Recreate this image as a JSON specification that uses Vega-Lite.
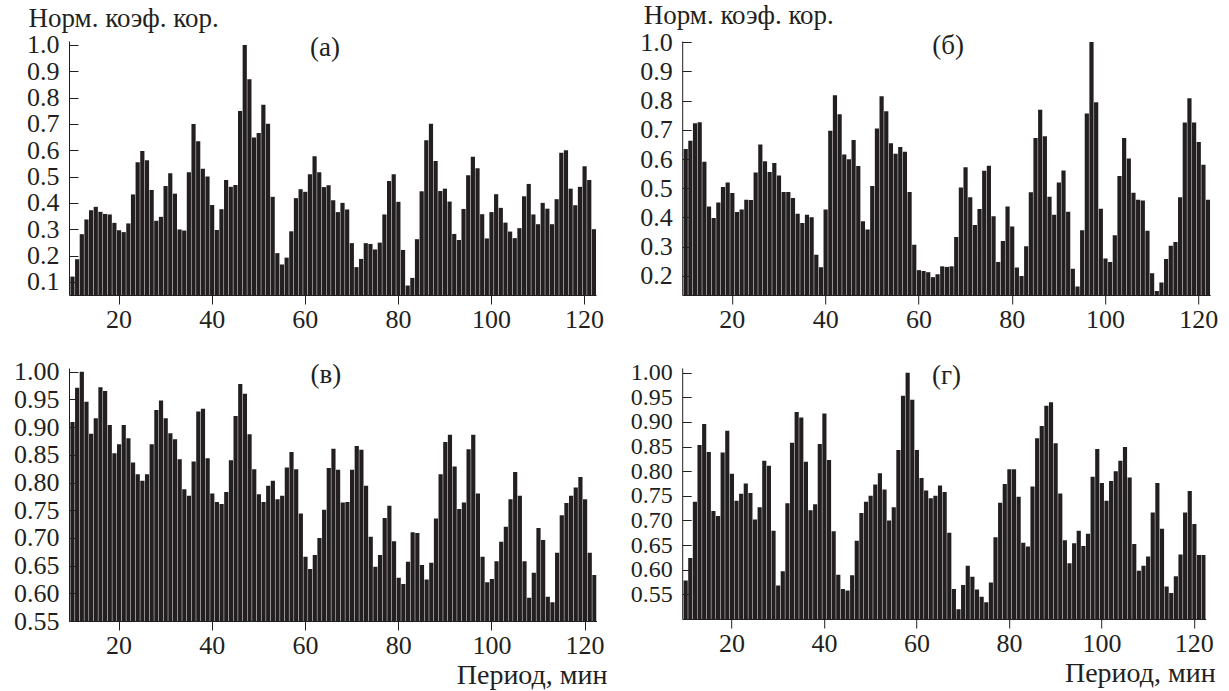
{
  "$schema": "https://vega.github.io/schema/vega-lite/v6.json",
  "autosize": {"type": "none"},
  "padding": {"left": 69, "top": 41, "right": 1160, "bottom": 650},
  "background": "white",
  "config": {
    "view": {"stroke": null},
    "font": "Liberation Serif",
    "axis": {
      "domainColor": "#231f20", "tickColor": "#231f20", "labelColor": "#231f20", "titleColor": "#231f20",
      "labelFont": "Liberation Serif", "titleFont": "Liberation Serif", "labelFontSize": 26, "titleFontSize": 28,
      "titleFontWeight": "normal", "grid": false, "domainWidth": 1, "tickWidth": 1
    },
    "axisX": {"tickSize": 9, "labelPadding": 2, "labelAngle": 0},
    "axisY": {"tickSize": -9, "labelPadding": 19, "labelOverlap": false, "labelBound": false},
    "title": {"font": "Liberation Serif", "fontSize": 27, "fontWeight": "normal", "color": "#231f20", "frame": "group", "anchor": "middle", "baseline": "middle", "offset": -11}
  },
  "data": {"values": [
    {"p":10,"a":0.12,"b":0.634,"c":0.909,"d":0.578},
    {"p":11,"a":0.186,"b":0.662,"c":0.971,"d":0.624},
    {"p":12,"a":0.281,"b":0.722,"c":1.0,"d":0.738},
    {"p":13,"a":0.337,"b":0.726,"c":0.946,"d":0.853},
    {"p":14,"a":0.372,"b":0.591,"c":0.888,"d":0.896},
    {"p":15,"a":0.385,"b":0.438,"c":0.916,"d":0.839},
    {"p":16,"a":0.366,"b":0.398,"c":0.972,"d":0.719},
    {"p":17,"a":0.358,"b":0.451,"c":0.965,"d":0.709},
    {"p":18,"a":0.356,"b":0.504,"c":0.904,"d":0.838},
    {"p":19,"a":0.324,"b":0.52,"c":0.853,"d":0.882},
    {"p":20,"a":0.296,"b":0.484,"c":0.869,"d":0.795},
    {"p":21,"a":0.289,"b":0.419,"c":0.904,"d":0.74},
    {"p":22,"a":0.322,"b":0.427,"c":0.88,"d":0.754},
    {"p":23,"a":0.432,"b":0.461,"c":0.836,"d":0.775},
    {"p":24,"a":0.554,"b":0.46,"c":0.815,"d":0.756},
    {"p":25,"a":0.597,"b":0.554,"c":0.803,"d":0.702},
    {"p":26,"a":0.562,"b":0.65,"c":0.815,"d":0.727},
    {"p":27,"a":0.449,"b":0.592,"c":0.869,"d":0.821},
    {"p":28,"a":0.332,"b":0.556,"c":0.931,"d":0.811},
    {"p":29,"a":0.347,"b":0.586,"c":0.948,"d":0.679},
    {"p":30,"a":0.464,"b":0.544,"c":0.916,"d":0.568},
    {"p":31,"a":0.513,"b":0.487,"c":0.889,"d":0.597},
    {"p":32,"a":0.435,"b":0.487,"c":0.878,"d":0.735},
    {"p":33,"a":0.299,"b":0.467,"c":0.842,"d":0.858},
    {"p":34,"a":0.295,"b":0.413,"c":0.788,"d":0.92},
    {"p":35,"a":0.516,"b":0.381,"c":0.776,"d":0.909},
    {"p":36,"a":0.7,"b":0.409,"c":0.838,"d":0.819},
    {"p":37,"a":0.634,"b":0.401,"c":0.928,"d":0.721},
    {"p":38,"a":0.53,"b":0.273,"c":0.933,"d":0.733},
    {"p":39,"a":0.5,"b":0.23,"c":0.844,"d":0.855},
    {"p":40,"a":0.392,"b":0.427,"c":0.78,"d":0.917},
    {"p":41,"a":0.297,"b":0.697,"c":0.765,"d":0.823},
    {"p":42,"a":0.376,"b":0.818,"c":0.761,"d":0.678},
    {"p":43,"a":0.487,"b":0.753,"c":0.783,"d":0.59},
    {"p":44,"a":0.461,"b":0.615,"c":0.84,"d":0.561},
    {"p":45,"a":0.468,"b":0.599,"c":0.92,"d":0.558},
    {"p":46,"a":0.749,"b":0.665,"c":0.978,"d":0.589},
    {"p":47,"a":1.0,"b":0.576,"c":0.96,"d":0.659},
    {"p":48,"a":0.87,"b":0.387,"c":0.887,"d":0.715},
    {"p":49,"a":0.648,"b":0.359,"c":0.824,"d":0.738},
    {"p":50,"a":0.665,"b":0.508,"c":0.779,"d":0.75},
    {"p":51,"a":0.773,"b":0.704,"c":0.765,"d":0.773},
    {"p":52,"a":0.701,"b":0.815,"c":0.794,"d":0.796},
    {"p":53,"a":0.423,"b":0.763,"c":0.803,"d":0.763},
    {"p":54,"a":0.209,"b":0.654,"c":0.77,"d":0.7},
    {"p":55,"a":0.166,"b":0.618,"c":0.776,"d":0.727},
    {"p":56,"a":0.192,"b":0.641,"c":0.827,"d":0.843},
    {"p":57,"a":0.292,"b":0.625,"c":0.855,"d":0.953},
    {"p":58,"a":0.418,"b":0.487,"c":0.824,"d":1.0},
    {"p":59,"a":0.452,"b":0.307,"c":0.744,"d":0.945},
    {"p":60,"a":0.442,"b":0.22,"c":0.666,"d":0.843},
    {"p":61,"a":0.509,"b":0.217,"c":0.644,"d":0.786},
    {"p":62,"a":0.577,"b":0.213,"c":0.669,"d":0.761},
    {"p":63,"a":0.516,"b":0.196,"c":0.7,"d":0.745},
    {"p":64,"a":0.46,"b":0.206,"c":0.751,"d":0.75},
    {"p":65,"a":0.467,"b":0.233,"c":0.826,"d":0.771},
    {"p":66,"a":0.41,"b":0.231,"c":0.861,"d":0.758},
    {"p":67,"a":0.365,"b":0.233,"c":0.823,"d":0.675},
    {"p":68,"a":0.4,"b":0.333,"c":0.764,"d":0.561},
    {"p":69,"a":0.375,"b":0.503,"c":0.765,"d":0.52},
    {"p":70,"a":0.247,"b":0.572,"c":0.823,"d":0.569},
    {"p":71,"a":0.156,"b":0.469,"c":0.866,"d":0.608},
    {"p":72,"a":0.187,"b":0.374,"c":0.859,"d":0.586},
    {"p":73,"a":0.247,"b":0.429,"c":0.794,"d":0.56},
    {"p":74,"a":0.244,"b":0.56,"c":0.702,"d":0.545},
    {"p":75,"a":0.223,"b":0.577,"c":0.648,"d":0.534},
    {"p":76,"a":0.249,"b":0.404,"c":0.669,"d":0.574},
    {"p":77,"a":0.356,"b":0.248,"c":0.736,"d":0.666},
    {"p":78,"a":0.483,"b":0.32,"c":0.758,"d":0.736},
    {"p":79,"a":0.509,"b":0.438,"c":0.694,"d":0.774},
    {"p":80,"a":0.404,"b":0.369,"c":0.628,"d":0.804},
    {"p":81,"a":0.221,"b":0.229,"c":0.617,"d":0.804},
    {"p":82,"a":0.086,"b":0.2,"c":0.657,"d":0.748},
    {"p":83,"a":0.115,"b":0.302,"c":0.71,"d":0.655},
    {"p":84,"a":0.262,"b":0.486,"c":0.709,"d":0.647},
    {"p":85,"a":0.444,"b":0.672,"c":0.651,"d":0.769},
    {"p":86,"a":0.638,"b":0.768,"c":0.625,"d":0.867},
    {"p":87,"a":0.701,"b":0.678,"c":0.655,"d":0.892},
    {"p":88,"a":0.559,"b":0.471,"c":0.735,"d":0.933},
    {"p":89,"a":0.445,"b":0.409,"c":0.815,"d":0.94},
    {"p":90,"a":0.454,"b":0.52,"c":0.873,"d":0.857},
    {"p":91,"a":0.405,"b":0.561,"c":0.886,"d":0.755},
    {"p":92,"a":0.282,"b":0.42,"c":0.829,"d":0.66},
    {"p":93,"a":0.259,"b":0.225,"c":0.752,"d":0.613},
    {"p":94,"a":0.377,"b":0.164,"c":0.764,"d":0.654},
    {"p":95,"a":0.505,"b":0.356,"c":0.86,"d":0.679},
    {"p":96,"a":0.575,"b":0.756,"c":0.886,"d":0.648},
    {"p":97,"a":0.532,"b":1.0,"c":0.78,"d":0.673},
    {"p":98,"a":0.357,"b":0.794,"c":0.666,"d":0.789},
    {"p":99,"a":0.265,"b":0.43,"c":0.62,"d":0.845},
    {"p":100,"a":0.365,"b":0.26,"c":0.626,"d":0.776},
    {"p":101,"a":0.433,"b":0.248,"c":0.658,"d":0.74},
    {"p":102,"a":0.381,"b":0.339,"c":0.693,"d":0.78},
    {"p":103,"a":0.325,"b":0.542,"c":0.72,"d":0.8},
    {"p":104,"a":0.291,"b":0.672,"c":0.77,"d":0.821},
    {"p":105,"a":0.266,"b":0.602,"c":0.819,"d":0.849},
    {"p":106,"a":0.304,"b":0.485,"c":0.776,"d":0.787},
    {"p":107,"a":0.425,"b":0.461,"c":0.658,"d":0.652},
    {"p":108,"a":0.472,"b":0.458,"c":0.592,"d":0.598},
    {"p":109,"a":0.356,"b":0.355,"c":0.637,"d":0.608},
    {"p":110,"a":0.319,"b":0.209,"c":0.718,"d":0.627},
    {"p":111,"a":0.4,"b":0.149,"c":0.696,"d":0.716},
    {"p":112,"a":0.378,"b":0.178,"c":0.594,"d":0.776},
    {"p":113,"a":0.319,"b":0.258,"c":0.584,"d":0.683},
    {"p":114,"a":0.414,"b":0.303,"c":0.673,"d":0.566},
    {"p":115,"a":0.59,"b":0.316,"c":0.741,"d":0.553},
    {"p":116,"a":0.6,"b":0.469,"c":0.763,"d":0.587},
    {"p":117,"a":0.454,"b":0.725,"c":0.776,"d":0.631},
    {"p":118,"a":0.391,"b":0.808,"c":0.791,"d":0.716},
    {"p":119,"a":0.461,"b":0.725,"c":0.81,"d":0.76},
    {"p":120,"a":0.539,"b":0.658,"c":0.77,"d":0.693},
    {"p":121,"a":0.487,"b":0.58,"c":0.673,"d":0.63},
    {"p":122,"a":0.3,"b":0.461,"c":0.633,"d":0.63}
  ]},
  "columns": 2,
  "bounds": "flush",
  "spacing": {"row": 73, "column": 85.2},
  "resolve": {"scale": {"x": "independent", "y": "independent"}, "axis": {"x": "independent", "y": "independent"}},
  "concat": [
    {
      "width": 527, "height": 254,
      "title": {"text": "(а)", "dx": -7.5, "dy": 47},
      "mark": {"type": "bar", "color": "#231f20", "clip": true},
      "encoding": {
        "x": {"field": "p", "type": "ordinal", "scale": {"paddingInner": 0.1, "paddingOuter": 0.15, "align": 1},
              "axis": {"values": [20, 40, 60, 80, 100, 120], "title": null}},
        "y": {"field": "a", "type": "quantitative", "scale": {"domain": [0.05, 1.015], "zero": false, "nice": false},
              "axis": {"values": [0.1, 0.2, 0.3, 0.4, 0.5, 0.6, 0.7, 0.8, 0.9, 1.0], "format": ".1f",
                       "title": "Норм. коэф. кор.", "titleFontSize": 27, "titleAngle": 0, "titleAlign": "left", "titleBaseline": "alphabetic",
                       "titleX": -41, "titleY": -15}}
      }
    },
    {
      "width": 528, "height": 254,
      "title": {"text": "(б)", "dx": 2, "dy": 47.5},
      "mark": {"type": "bar", "color": "#231f20", "clip": true},
      "encoding": {
        "x": {"field": "p", "type": "ordinal", "scale": {"paddingInner": 0.1, "paddingOuter": 0.15, "align": 1},
              "axis": {"values": [20, 40, 60, 80, 100, 120], "title": null}},
        "y": {"field": "b", "type": "quantitative", "scale": {"domain": [0.135, 1.0035], "zero": false, "nice": false},
              "axis": {"values": [0.2, 0.3, 0.4, 0.5, 0.6, 0.7, 0.8, 0.9, 1.0], "format": ".1f",
                       "title": "Норм. коэф. кор.", "titleFontSize": 27, "titleAngle": 0, "titleAlign": "left", "titleBaseline": "alphabetic",
                       "titleX": -39, "titleY": -18}}
      }
    },
    {
      "width": 527.5, "height": 253,
      "title": {"text": "(в)", "dx": -7, "dy": 19},
      "mark": {"type": "bar", "color": "#231f20", "clip": true},
      "encoding": {
        "x": {"field": "p", "type": "ordinal", "scale": {"paddingInner": 0.1, "paddingOuter": 0.15, "align": 1},
              "axis": {"values": [20, 40, 60, 80, 100, 120], "title": "Период, мин", "titleAnchor": "start",
                       "titleAlign": "right", "titleBaseline": "alphabetic", "titleX": 538, "titleY": 62}},
        "y": {"field": "c", "type": "quantitative", "scale": {"domain": [0.55, 1.0067], "zero": false, "nice": false},
              "axis": {"values": [0.55, 0.6, 0.65, 0.7, 0.75, 0.8, 0.85, 0.9, 0.95, 1.0], "format": ".2f", "title": null}}
      }
    },
    {
      "width": 523.5, "height": 251,
      "title": {"text": "(г)", "dx": 2.5, "dy": 18},
      "mark": {"type": "bar", "color": "#231f20", "clip": true},
      "encoding": {
        "x": {"field": "p", "type": "ordinal", "scale": {"paddingInner": 0.1, "paddingOuter": 0.15, "align": 1},
              "axis": {"values": [20, 40, 60, 80, 100, 120], "title": "Период, мин", "titleAnchor": "start",
                       "titleAlign": "right", "titleBaseline": "alphabetic", "titleX": 533, "titleY": 62}},
        "y": {"field": "d", "type": "quantitative", "scale": {"domain": [0.5, 1.0095], "zero": false, "nice": false},
              "axis": {"values": [0.55, 0.6, 0.65, 0.7, 0.75, 0.8, 0.85, 0.9, 0.95, 1.0], "format": ".2f", "title": null,
                       "labelFontSize": 24}}
      }
    }
  ]
}
